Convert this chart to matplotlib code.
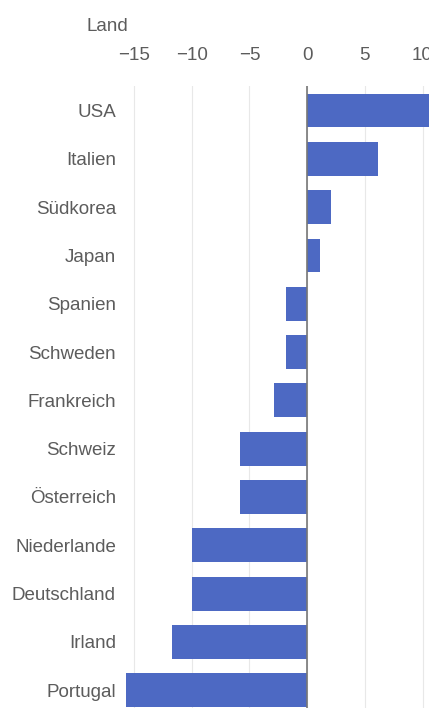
import matplotlib.pyplot as plt

# Werte je Land (von oben nach unten)
laender = ["USA", "Italien", "Südkorea", "Japan", "Spanien", "Schweden",
           "Frankreich", "Schweiz", "Österreich", "Niederlande",
           "Deutschland", "Irland", "Portugal"]
werte = [11.5, 6.1, 2.1, 1.1, -1.8, -1.8, -2.9, -5.8, -5.8, -10.0,
         -10.0, -11.7, -15.7]
xticks = [-15, -10, -5, 0, 5, 10]

plt.rcParams['font.family'] = ['Liberation Sans', 'DejaVu Sans']
grau = '#5c5c5c'

fig = plt.figure(figsize=(4.29, 7.08), dpi=100)
ax = fig.add_axes([0.28, -0.009, 0.72, 0.887])

y = list(range(len(laender)))
ax.barh(y, werte, height=0.7, color='#4d69c3', zorder=3)

ax.set_ylim(len(laender) - 0.5, -0.5)
ax.set_xlim(-16.2, 10.56)
ax.set_yticks(y)
ax.set_yticklabels(laender)
ax.set_xticks(xticks)
ax.xaxis.tick_top()
ax.tick_params(axis='both', length=0, labelsize=13.5, colors=grau)
ax.tick_params(axis='x', pad=16)
ax.tick_params(axis='y', pad=3)

for s in ax.spines.values():
    s.set_visible(False)
ax.grid(axis='x', color='#e8e8e8', linewidth=0.8, zorder=0)
ax.axvline(0, color='#777777', linewidth=1.2, zorder=4)

fig.text(0.201, 0.963, "Land", fontsize=13.5, color=grau, va='center')

fig.savefig('out.png', dpi=100)
